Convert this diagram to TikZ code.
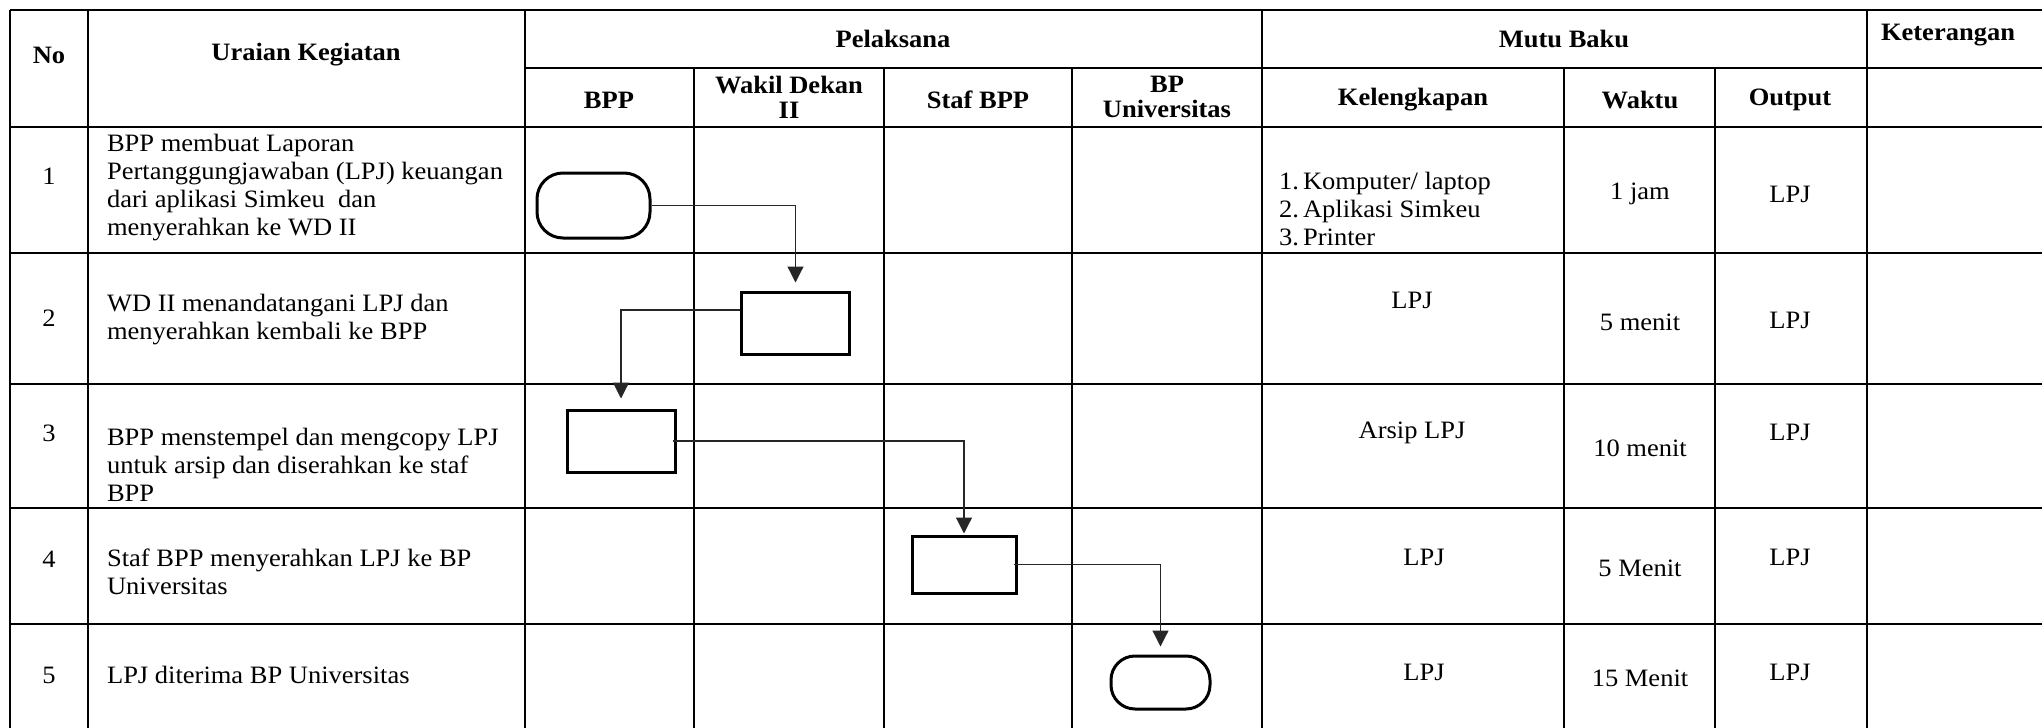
\documentclass[tikz,border=0pt]{standalone}
\usepackage{fontspec}
\setmainfont[FakeStretch=1.06]{Liberation Serif}
\usetikzlibrary{arrows.meta}

\newcommand{\tabfont}{\fontsize{12.5}{14}\selectfont}

\tikzset{
  grid/.style={line width=0.7pt},
  proc/.style={draw, line width=1.5pt, minimum width=54pt, minimum height=31pt, inner sep=0pt},
  term/.style={proc, rounded corners=13pt},
  flow/.style={-{Triangle[length=8pt,width=8pt]}, line width=0.6pt, black!85, shorten >=4pt},
  head/.style={font=\fontsize{12.5}{12.5}\selectfont\bfseries, align=center},
  isi/.style={font=\tabfont, align=center},
  uraian/.style={font=\tabfont, anchor=west, align=left},
}

\begin{document}
\begin{tikzpicture}[x=0.5pt,y=-0.5pt]
  \useasboundingbox (0,0) rectangle (2042,728);
  % garis tabel
  \draw[grid] (10,10) -- (2042,10);
  \draw[grid] (525,68) -- (2042,68);
  \foreach \y in {127,253,384,508,624}
    \draw[grid] (10,\y) -- (2042,\y);
  \foreach \x in {10,88,525,1262,1867}
    \draw[grid] (\x,10) -- (\x,728);
  \foreach \x in {694,884,1072,1564,1715}
    \draw[grid] (\x,68) -- (\x,728);

  % kepala tabel
  \node[head] (hNo) at (49,55) {No};
  \node[head] (hUraian) at (306,55) {Uraian Kegiatan};
  \node[head] (hPelaksana) at (893,39) {Pelaksana};
  \node[head] (hMutu) at (1564,39) {Mutu Baku};
  \node[head] (hKet) at (1948,35) {Keterangan};
  \node[head] (hBPP) at (609,100) {BPP};
  \node[head] (hWD) at (789,97) {Wakil Dekan\\II};
  \node[head] (hStaf) at (978,100) {Staf BPP};
  \node[head] (hBPU) at (1167,97) {BP\\Universitas};
  \node[head] (hKel) at (1413,100) {Kelengkapan};
  \node[head] (hWaktu) at (1640,100) {Waktu};
  \node[head] (hOut) at (1790,100) {Output};

  % baris 1
  \node[isi] (no1) at (49,176) {1};
  \node[uraian] (ur1) at (100,188) {BPP membuat Laporan\\Pertanggungjawaban (LPJ) keuangan\\dari aplikasi Simkeu\ \ dan\\menyerahkan ke WD II};
  \node[uraian] (kel1) at (1272,209) {1.\,Komputer/ laptop\\2.\,Aplikasi Simkeu\\3.\,Printer};
  \node[isi] (wkt1) at (1640,194) {1 jam};
  \node[isi] (out1) at (1790,194) {LPJ};

  % baris 2
  \node[isi] (no2) at (49,318) {2};
  \node[uraian] (ur2) at (100,320) {WD II menandatangani LPJ dan\\menyerahkan kembali ke BPP};
  \node[isi] (kel2) at (1412,300) {LPJ};
  \node[isi] (wkt2) at (1640,322) {5 menit};
  \node[isi] (out2) at (1790,320) {LPJ};

  % baris 3
  \node[isi] (no3) at (49,433) {3};
  \node[uraian] (ur3) at (100,465) {BPP menstempel dan mengcopy LPJ\\untuk arsip dan diserahkan ke staf\\BPP};
  \node[isi] (kel3) at (1412,433) {Arsip LPJ};
  \node[isi] (wkt3) at (1640,448) {10 menit};
  \node[isi] (out3) at (1790,432) {LPJ};

  % baris 4
  \node[isi] (no4) at (49,559) {4};
  \node[uraian] (ur4) at (100,572) {Staf BPP menyerahkan LPJ ke BP\\Universitas};
  \node[isi] (kel4) at (1424,557) {LPJ};
  \node[isi] (wkt4) at (1640,568) {5 Menit};
  \node[isi] (out4) at (1790,557) {LPJ};

  % baris 5
  \node[isi] (no5) at (49,675) {5};
  \node[uraian] (ur5) at (100,675) {LPJ diterima BP Universitas};
  \node[isi] (kel5) at (1424,672) {LPJ};
  \node[isi] (wkt5) at (1640,678) {15 Menit};
  \node[isi] (out5) at (1790,672) {LPJ};

  % simbol alir
  \node[term, minimum width=56.5pt, minimum height=32.5pt] (t1) at (593.5,205.5) {};
  \node[proc] (b2) at (795.5,323) {};
  \node[proc] (b3) at (621,441) {};
  \node[proc, minimum width=52pt, minimum height=28.5pt] (b4) at (964,564.5) {};
  \node[term, minimum width=49.5pt, minimum height=26.5pt, rounded corners=12pt] (t5) at (1160.5,682.5) {};

  \draw[flow] (t1.east) -| (b2.north);
  \draw[flow, shorten >=5pt] ([yshift=6.5pt]b2.west) -| (b3.north);
  \draw[flow, shorten >=0.5pt] ([xshift=-2pt]b3.east) -| (b4.north);
  \draw[flow] ([xshift=-2pt]b4.east) -| (t5.north);
\end{tikzpicture}
\end{document}
